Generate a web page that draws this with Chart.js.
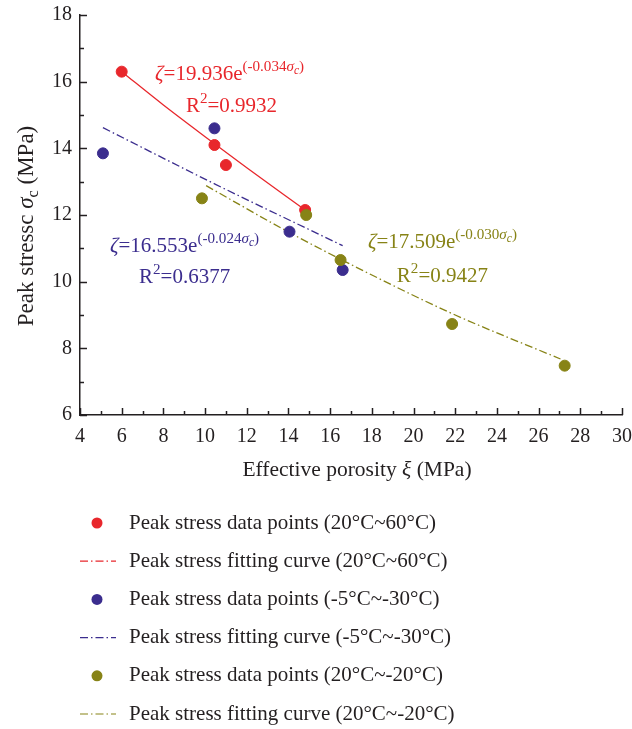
<!DOCTYPE html>
<html>
<head>
<meta charset="utf-8">
<script src="https://cdn.jsdelivr.net/npm/chart.js@4/dist/chart.umd.min.js"></script>
<style>
  html, body { margin: 0; padding: 0; background: #fff; }
  canvas { display: block; }
</style>
</head>
<body>
<canvas id="peakChart" width="632" height="729"></canvas>
<script>
// Peak stress data points
const redX = [6.0, 10.45, 11.0, 14.8];
const redY = [16.3, 14.1, 13.5, 12.15];
const blueX = [5.1, 10.45, 14.05, 16.6];
const blueY = [13.85, 14.6, 11.5, 10.35];
const oliveX = [9.85, 14.85, 16.5, 21.85, 27.25];
const oliveY = [12.5, 12.0, 10.65, 8.73, 7.48];

// Fitting curves (sampled along the drawn curves)
const redFitX = [6.0, 8, 10, 12, 14.8];
const redFitY = [16.3, 15.3, 14.35, 13.42, 12.15];
const blueFitX = [5.1, 10.5, 16.6];
const blueFitY = [14.62, 12.92, 11.08];
const oliveFitX = [10.05, 14, 18, 22, 27.05];
const oliveFitY = [12.88, 11.49, 10.2, 9.0, 7.68];

const xTicks = [4, 6, 8, 10, 12, 14, 16, 18, 20, 22, 24, 26, 28, 30];
const yTicks = [6, 8, 10, 12, 14, 16, 18];

const labels = [
  'Peak stress data points (20°C~60°C)',
  'Peak stress fitting curve (20°C~60°C)',
  'Peak stress data points (-5°C~-30°C)',
  'Peak stress fitting curve (-5°C~-30°C)',
  'Peak stress data points (20°C~-20°C)',
  'Peak stress fitting curve (20°C~-20°C)'
];

const RED = '#e8272c';
const BLUE = '#3b2d8e';
const OLIVE = '#878316';
const INK = '#231f20';
const SERIF = '"Liberation Serif", "DejaVu Serif", serif';
const DASHDOT = [8, 3, 1.5, 3];

function pts(xs, ys) { return xs.map((x, i) => ({ x: x, y: ys[i] })); }

// equations written on the plot (position in data units)
const notes = [
  { x: 7.6, y: 16.05, color: RED, parts: [['ζ', 'i'], ['=19.936e', 'n'], ['(-0.034', 's'], ['σ', 'si'], ['c', 'ss'], [')', 's']] },
  { x: 9.08, y: 15.09, color: RED, parts: [['R', 'n'], ['2', 's'], ['=0.9932', 'n']] },
  { x: 5.44, y: 10.89, color: BLUE, parts: [['ζ', 'i'], ['=16.553e', 'n'], ['(-0.024', 's'], ['σ', 'si'], ['c', 'ss'], [')', 's']] },
  { x: 6.83, y: 9.96, color: BLUE, parts: [['R', 'n'], ['2', 's'], ['=0.6377', 'n']] },
  { x: 17.81, y: 11.01, color: OLIVE, parts: [['ζ', 'i'], ['=17.509e', 'n'], ['(-0.030', 's'], ['σ', 'si'], ['c', 'ss'], [')', 's']] },
  { x: 19.2, y: 9.99, color: OLIVE, parts: [['R', 'n'], ['2', 's'], ['=0.9427', 'n']] }
];

// draws mixed text (italic / superscript / subscript) starting at x, baseline y
function drawRich(ctx, x, y, parts, size, measureOnly) {
  let w = 0;
  parts.forEach(p => {
    const kind = p[1];
    let sz = size, dy = 0, ital = false;
    if (kind === 'i') ital = true;
    if (kind === 's') { sz = size * 0.72; dy = -size * 0.42; }
    if (kind === 'si') { sz = size * 0.72; dy = -size * 0.42; ital = true; }
    if (kind === 'ss') { sz = size * 0.55; dy = -size * 0.28; ital = true; }
    if (kind === 'sub') { sz = size * 0.7; dy = size * 0.22; }
    ctx.font = (ital ? 'italic ' : '') + sz + 'px ' + SERIF;
    if (!measureOnly) ctx.fillText(p[0], x + w, y + dy);
    w += ctx.measureText(p[0]).width;
  });
  return w;
}

const extras = {
  id: 'extras',
  afterDraw(chart) {
    const ctx = chart.ctx;
    const xs = chart.scales.x, ys = chart.scales.y;
    const area = chart.chartArea;
    ctx.save();
    ctx.strokeStyle = INK;
    ctx.lineWidth = 1.5;
    // inward ticks, major and minor
    for (let v = 4; v <= 30; v++) {
      const px = Math.round(xs.getPixelForValue(v)) + 0.5;
      const len = v % 2 === 0 ? 7 : 4;
      ctx.beginPath(); ctx.moveTo(px, area.bottom); ctx.lineTo(px, area.bottom - len); ctx.stroke();
    }
    for (let v = 6; v <= 18; v++) {
      const py = Math.round(ys.getPixelForValue(v)) + 0.5;
      const len = v % 2 === 0 ? 7 : 4;
      ctx.beginPath(); ctx.moveTo(area.left, py); ctx.lineTo(area.left + len, py); ctx.stroke();
    }

    // equations
    ctx.textBaseline = 'alphabetic';
    ctx.textAlign = 'left';
    notes.forEach(n => {
      ctx.fillStyle = n.color;
      drawRich(ctx, xs.getPixelForValue(n.x), ys.getPixelForValue(n.y), n.parts, 21);
    });

    // axis titles
    ctx.fillStyle = INK;
    const xt = [['Effective porosity ', 'n'], ['ξ', 'i'], [' (MPa)', 'n']];
    const xw = drawRich(ctx, 0, 0, xt, 21.5, true);
    drawRich(ctx, 357 - xw / 2, 476, xt, 21.5);

    const yt = [['Peak stressc ', 'n'], ['σ', 'i'], ['c', 'sub'], [' (MPa)', 'n']];
    const yw = drawRich(ctx, 0, 0, yt, 23, true);
    ctx.save();
    ctx.translate(33, 226);
    ctx.rotate(-Math.PI / 2);
    drawRich(ctx, -yw / 2, 0, yt, 23);
    ctx.restore();

    // legend below the plot
    const rowY = 523, rowGap = 38.2;
    chart.data.datasets.forEach((ds, i) => {
      const cy = rowY + i * rowGap;
      if (ds.type === 'scatter') {
        ctx.fillStyle = ds.backgroundColor;
        ctx.beginPath(); ctx.arc(97, cy, 5.5, 0, Math.PI * 2); ctx.fill();
      } else {
        ctx.strokeStyle = ds.borderColor;
        ctx.lineWidth = 1.2;
        ctx.setLineDash(DASHDOT);
        ctx.beginPath(); ctx.moveTo(80, cy); ctx.lineTo(116, cy); ctx.stroke();
        ctx.setLineDash([]);
      }
      ctx.fillStyle = INK;
      ctx.font = '21px ' + SERIF;
      ctx.textBaseline = 'middle';
      ctx.fillText(ds.label, 129, cy);
    });
    ctx.restore();
  }
};

const fitStyle = (color, dash) => ({
  type: 'line',
  borderColor: color,
  backgroundColor: color,
  borderWidth: 1.3,
  borderDash: dash,
  pointRadius: 0,
  cubicInterpolationMode: 'monotone',
  fill: false
});
const dotStyle = color => ({
  type: 'scatter',
  backgroundColor: color,
  borderColor: color,
  pointRadius: 5.5,
  pointHoverRadius: 5.5
});

const ctx = document.getElementById('peakChart').getContext('2d');
const chart = new Chart(ctx, {
  data: {
    datasets: [
      Object.assign(dotStyle(RED), { label: labels[0], data: pts(redX, redY), order: 1 }),
      Object.assign(fitStyle(RED, []), { label: labels[1], data: pts(redFitX, redFitY), order: 2 }),
      Object.assign(dotStyle(BLUE), { label: labels[2], data: pts(blueX, blueY), order: 1 }),
      Object.assign(fitStyle(BLUE, DASHDOT), { label: labels[3], data: pts(blueFitX, blueFitY), order: 2 }),
      Object.assign(dotStyle(OLIVE), { label: labels[4], data: pts(oliveX, oliveY), order: 0 }),
      Object.assign(fitStyle(OLIVE, DASHDOT), { label: labels[5], data: pts(oliveFitX, oliveFitY), order: 2 })
    ]
  },
  options: {
    responsive: false,
    animation: false,
    layout: { padding: { left: 0, top: 15, right: 10, bottom: 254 } },
    plugins: {
      legend: { display: false },
      tooltip: { enabled: false }
    },
    scales: {
      x: {
        type: 'linear',
        min: 4,
        max: 30,
        afterBuildTicks: s => { s.ticks = xTicks.map(v => ({ value: v })); },
        afterFit: s => { s.height = 60; s.paddingLeft = 0; s.paddingRight = 0; },
        grid: { display: true, drawOnChartArea: false, drawTicks: false },
        border: { display: true, color: INK, width: 1.5 },
        ticks: { color: INK, padding: 10, maxRotation: 0, font: { family: SERIF, size: 20 } }
      },
      y: {
        type: 'linear',
        min: 6,
        max: 18,
        afterBuildTicks: s => { s.ticks = yTicks.map(v => ({ value: v })); },
        afterFit: s => { s.width = 80; s.paddingTop = 0; s.paddingBottom = 0; },
        grid: { display: true, drawOnChartArea: false, drawTicks: false },
        border: { display: true, color: INK, width: 1.5 },
        ticks: { color: INK, padding: 8, font: { family: SERIF, size: 20 } }
      }
    }
  },
  plugins: [extras]
});
</script>
</body>
</html>
